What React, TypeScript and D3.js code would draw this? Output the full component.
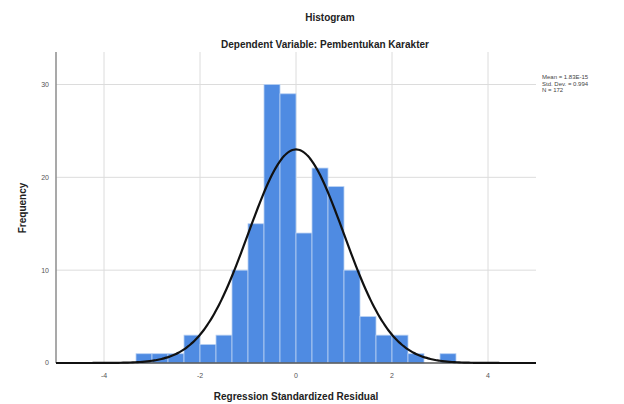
import React, { useEffect, useRef } from "react";
import * as d3 from "d3";

// residual histogram, bins of 1/3 starting at -10/3
const binLower = [
  -10 / 3, -3, -8 / 3, -7 / 3, -2, -5 / 3, -4 / 3, -1, -2 / 3, -1 / 3,
  0, 1 / 3, 2 / 3, 1, 4 / 3, 5 / 3, 2, 7 / 3, 8 / 3, 3,
];
const counts = [1, 1, 1, 3, 2, 3, 10, 15, 30, 29, 14, 21, 19, 10, 5, 3, 3, 1, 0, 1];
const binWidth = 1 / 3;
const xTicks = [-4, -2, 0, 2, 4];
const yTicks = [0, 10, 20, 30];
const statLines = ["Mean = 1.83E-15", "Std. Dev. = 0.994", "N = 172"];
const mean = 1.83e-15;
const sd = 0.994;
const n = 172;

export default function App() {
  const svgRef = useRef<SVGSVGElement>(null);

  useEffect(() => {
    const width = 624;
    const height = 404;
    const font = "'Liberation Sans', Arial, sans-serif";
    const svg = d3.select(svgRef.current);
    svg.selectAll("*").remove();
    svg.attr("width", width).attr("height", height);

    const x = d3.scaleLinear().domain([-5, 5]).range([56, 536]);
    const y = d3.scaleLinear().domain([0, 33.5]).range([363, 52]);
    const [top, bottom] = [y(33.5), y(0)];

    const g = svg.append("g");

    // gridlines
    g.selectAll(".hgrid")
      .data(yTicks.slice(1))
      .enter().append("line")
      .attr("x1", x(-5)).attr("x2", x(5))
      .attr("y1", d => y(d)).attr("y2", d => y(d))
      .attr("stroke", "#dcdcdc").attr("stroke-width", 1);
    g.selectAll(".vgrid")
      .data(xTicks)
      .enter().append("line")
      .attr("x1", d => x(d)).attr("x2", d => x(d))
      .attr("y1", top).attr("y2", bottom)
      .attr("stroke", "#dcdcdc").attr("stroke-width", 1);

    // bars
    g.selectAll(".bar")
      .data(counts.map((c, i) => ({ lo: binLower[i], c })).filter(d => d.c > 0))
      .enter().append("rect")
      .attr("x", d => x(d.lo))
      .attr("width", d => x(d.lo + binWidth) - x(d.lo))
      .attr("y", d => y(d.c))
      .attr("height", d => y(0) - y(d.c))
      .attr("fill", "#4f8be2")
      .attr("stroke", "#b9d1f3")
      .attr("stroke-width", 0.8);

    // axes
    g.append("line")
      .attr("x1", x(-5)).attr("x2", x(-5))
      .attr("y1", top).attr("y2", bottom)
      .attr("stroke", "#8c8c8c").attr("stroke-width", 1.5);
    g.append("line")
      .attr("x1", x(-5)).attr("x2", x(5))
      .attr("y1", bottom).attr("y2", bottom)
      .attr("stroke", "#555").attr("stroke-width", 1.5);

    // normal curve
    const pts = d3.range(-5, 5.001, 0.05);
    const line = d3.line<number>()
      .x(d => x(d))
      .y(d => y(n * binWidth * Math.exp(-0.5 * ((d - mean) / sd) ** 2) / (sd * Math.sqrt(2 * Math.PI))))
      .curve(d3.curveBasis);
    g.append("path")
      .datum(pts)
      .attr("d", line)
      .attr("fill", "none")
      .attr("stroke", "#111")
      .attr("stroke-width", 2.2);

    // tick labels
    g.selectAll(".ylab")
      .data(yTicks)
      .enter().append("text")
      .attr("x", 49).attr("y", d => y(d))
      .attr("dy", "0.35em")
      .attr("text-anchor", "end")
      .style("font", `7px ${font}`)
      .attr("fill", "#555")
      .text(d => d);
    g.selectAll(".xlab")
      .data(xTicks)
      .enter().append("text")
      .attr("x", d => x(d)).attr("y", 378)
      .attr("text-anchor", "middle")
      .style("font", `7px ${font}`)
      .attr("fill", "#555")
      .text(d => d);

    // titles
    svg.append("text")
      .attr("x", 330).attr("y", 21)
      .attr("text-anchor", "middle")
      .style("font", `bold 10px ${font}`)
      .attr("fill", "#222")
      .text("Histogram");
    svg.append("text")
      .attr("x", 325).attr("y", 48)
      .attr("text-anchor", "middle")
      .style("font", `bold 10px ${font}`)
      .attr("fill", "#222")
      .text("Dependent Variable: Pembentukan Karakter");
    svg.append("text")
      .attr("x", 296).attr("y", 400)
      .attr("text-anchor", "middle")
      .style("font", `bold 10px ${font}`)
      .attr("fill", "#222")
      .text("Regression Standardized Residual");
    svg.append("text")
      .attr("transform", "translate(26,208) rotate(-90)")
      .attr("text-anchor", "middle")
      .style("font", `bold 10px ${font}`)
      .attr("fill", "#222")
      .text("Frequency");

    // stats legend
    svg.selectAll(".stat")
      .data(statLines)
      .enter().append("text")
      .attr("x", 542).attr("y", (d, i) => 79 + i * 6.5)
      .style("font", `6px ${font}`)
      .attr("fill", "#444")
      .text(d => d);
  }, []);

  return (
    <div style={{ position: "absolute", left: 0, top: 0 }}>
      <svg ref={svgRef} style={{ display: "block", background: "#fff" }}></svg>
    </div>
  );
}
